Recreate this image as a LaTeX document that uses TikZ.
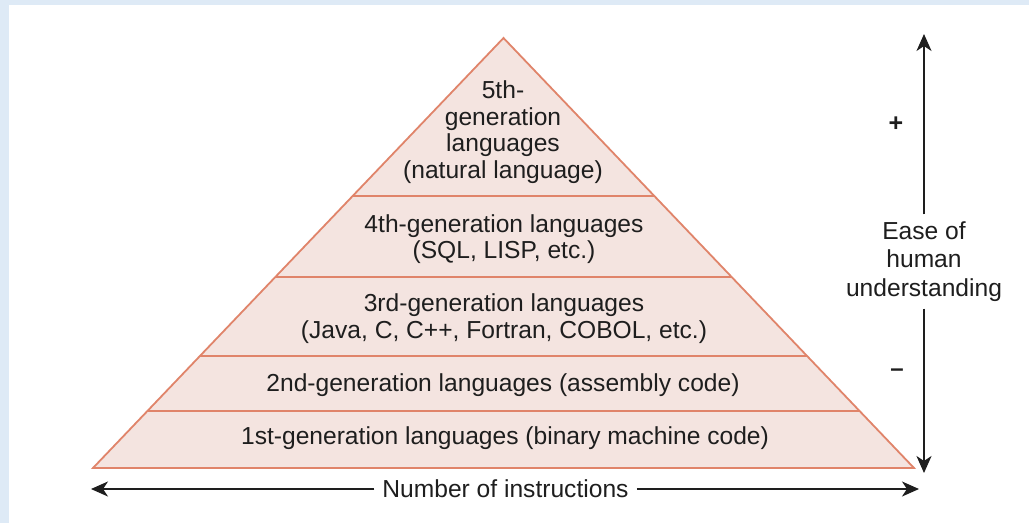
\documentclass[tikz,border=0pt]{standalone}
\usepackage{fontspec}
\setmainfont{Liberation Sans}
\usetikzlibrary{calc,arrows.meta}
\definecolor{frameblue}{HTML}{DEEAF6}
\definecolor{layerfill}{HTML}{F4E4E0}
\definecolor{layerline}{HTML}{E0846A}
\definecolor{ink}{HTML}{1E1E1E}
\tikzset{
  label/.style={text=ink, align=center, inner sep=0pt,
    font=\fontsize{24.6}{26.7}\selectfont},
  axis/.style={draw=ink, line width=2pt,
    -{Stealth[length=17pt,width=15pt,inset=5pt]}},
  layer/.style={draw=layerline, line width=1.8pt},
}
\begin{document}
\begin{tikzpicture}[x=1pt,y=-1pt]
  % frame and white panel
  \fill[frameblue] (0,0) rectangle (1029,523);
  \fill[white] (9,5) rectangle (1029,523);
  \useasboundingbox (0,0) rectangle (1029,523);

  % pyramid corners
  \coordinate (apex) at (503.5,38);
  \coordinate (bl) at (93,468);
  \coordinate (br) at (914,468);
  \fill[layerfill] (apex) -- (bl) -- (br) -- cycle;

  % layer boundaries
  \foreach \t/\n in {0.3674/a,0.5558/b,0.7395/c,0.8674/d}{
    \coordinate (l\n) at ($(apex)!\t!(bl)$);
    \coordinate (r\n) at ($(apex)!\t!(br)$);
    \draw[layer] (l\n) -- (r\n);
  }
  \draw[layer, line join=miter] (apex) -- (bl) -- (br) -- cycle;

  % layer labels
  \node[label] (g5) at (503,132) {5th-\\generation\\languages\\(natural language)};
  \node[label] (g4) at (504,239) {4th-generation languages\\(SQL, LISP, etc.)};
  \node[label] (g3) at (504,318.5) {3rd-generation languages\\(Java, C, C++, Fortran, COBOL, etc.)};
  \node[label] (g2) at (503,385) {2nd-generation languages (assembly code)};
  \node[label] (g1) at (505,438) {1st-generation languages (binary machine code)};

  % horizontal axis
  \coordinate (hl) at (91,489);
  \coordinate (hr) at (919,489);
  \node[label, fill=white, inner xsep=8pt, inner ysep=2pt] (hx) at (505.5,489) {Number of instructions};
  \draw[axis] (hx.west) -- (hl);
  \draw[axis] (hx.east) -- (hr);

  % vertical axis
  \coordinate (vt) at (924,34);
  \coordinate (vb) at (924,473);
  \node[label, font=\fontsize{24.6}{28.5}\selectfont, inner ysep=7pt] (vx) at (924,261.5)
    {Ease of\\human\\understanding};
  \draw[axis] (vx.north) -- (vt);
  \draw[axis] (vx.south) -- (vb);
  \node[label, font=\fontsize{25}{25}\bfseries] (plus) at (896,124) {+};
  \node[label, font=\fontsize{24}{24}\bfseries] (minus) at (897,373) {–};
\end{tikzpicture}
\end{document}
